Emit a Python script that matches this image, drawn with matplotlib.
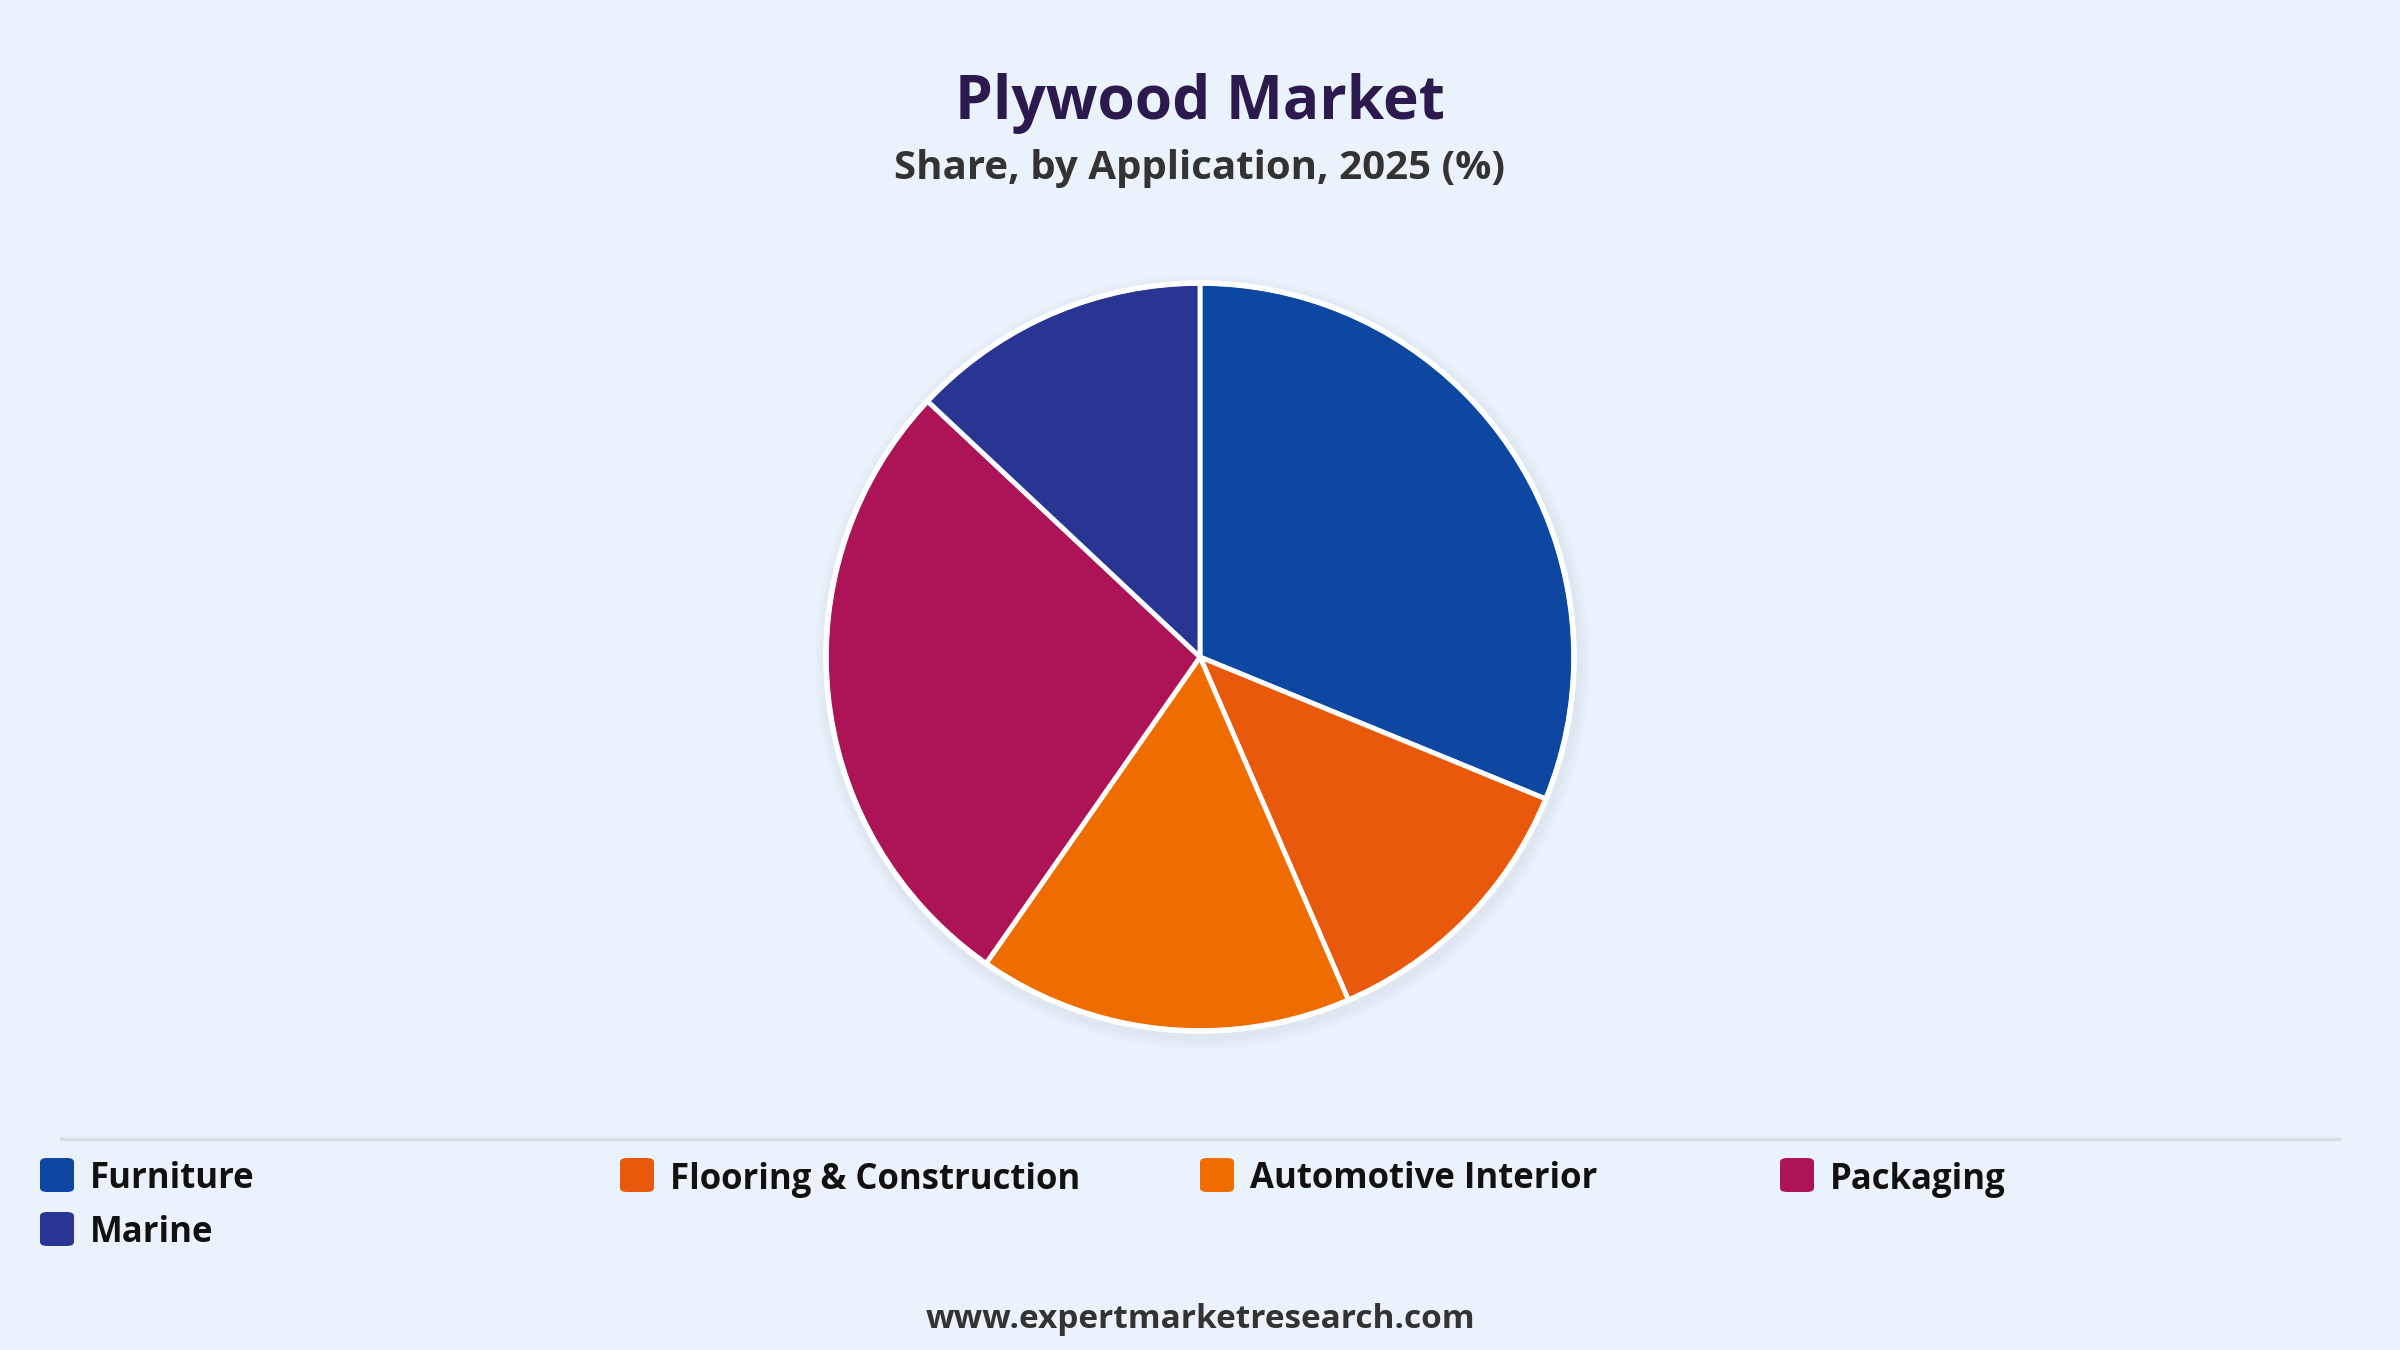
import matplotlib
matplotlib.use("Agg")
import matplotlib.pyplot as plt
from matplotlib.patches import Circle, FancyBboxPatch
from matplotlib.lines import Line2D

categories = ["Furniture", "Flooring & Construction", "Automotive Interior", "Packaging", "Marine"]
shares = [31.2, 12.3, 16.2, 27.3, 13.0]
colors = ["#0d47a1", "#e8590c", "#ef6c00", "#ad1457", "#283593"]

title = "Plywood Market"
subtitle = "Share, by Application, 2025 (%)"
footer = "www.expertmarketresearch.com"

W, H = 2400, 1350
bg = "#eaf2fb"
plt.rcParams['font.family'] = ['Open Sans', 'DejaVu Sans']

fig = plt.figure(figsize=(W / 100, H / 100), dpi=100, facecolor=bg)

# pie axes
cx, cy, r = 1200, 657, 374
ax = fig.add_axes([(cx - r) / W, (H - cy - r) / H, 2 * r / W, 2 * r / H])
ax.set_facecolor("none")
ax.axis("off")

# soft shadow
for s, a in [(1.035, 0.03), (1.025, 0.04), (1.015, 0.05)]:
    ax.add_patch(Circle((0.006, -0.012), s, color="#8a9bb5", alpha=a, lw=0, zorder=0,
                        clip_on=False))

wedges, _ = ax.pie(shares, colors=colors, startangle=90, counterclock=False, radius=1.0,
                   wedgeprops=dict(edgecolor="white", linewidth=3.5), center=(0, 0), frame=False)
for w in wedges:
    w.set_clip_on(False)
ax.add_patch(Circle((0, 0), 1.0, fill=False, edgecolor="white", lw=4, zorder=5, clip_on=False))
ax.set_xlim(-1, 1)
ax.set_ylim(-1, 1)
ax.set_aspect("equal")

# titles
fig.text(0.5, 1 - 104 / H, title, ha="center", va="center", fontsize=43.5,
         fontweight="bold", color="#2c1a4e")
fig.text(0.5, 1 - 168 / H, subtitle, ha="center", va="center", fontsize=29,
         fontweight="bold", color="#333333")

# separator
fig.add_artist(Line2D([61 / W, 2339 / W], [1 - 1139 / H, 1 - 1139 / H],
                      color="#d9dde3", lw=2.5))

# legend
col_x = [38, 618, 1198, 1778]
row_y = [1175, 1229]
for i, (lab, c) in enumerate(zip(categories, colors)):
    col = i % 4
    row = i // 4
    x0 = col_x[col]
    y0 = row_y[row]
    fig.add_artist(FancyBboxPatch(((x0 + 2) / W, (H - y0 - 17) / H), 34 / W, 34 / H,
                                  boxstyle="round,pad=0,rounding_size=0.003",
                                  transform=fig.transFigure, facecolor=c, edgecolor="none"))
    fig.text((x0 + 52) / W, 1 - y0 / H, lab, ha="left", va="center_baseline", fontsize=25,
             fontweight="bold", color="#111111")

fig.text(0.5, 1 - 1319 / H, footer, ha="center", va="center", fontsize=24,
         fontweight="bold", color="#333333")

fig.savefig("out.png", dpi=100, facecolor=bg)
